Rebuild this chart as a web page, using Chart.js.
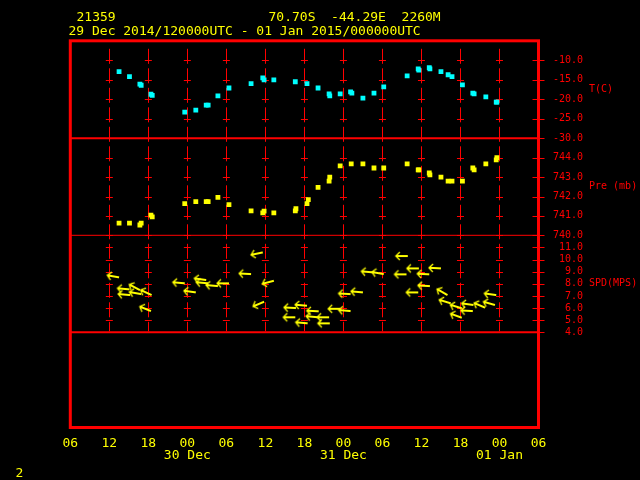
<!DOCTYPE html>
<html>
<head>
<meta charset="utf-8">
<script src="https://cdn.jsdelivr.net/npm/chart.js@4/dist/chart.umd.min.js"></script>
<style>
    html, body { margin: 0; padding: 0; background: #000; }
    canvas { display: block; }
</style>
</head>
<body>
<canvas id="meteograma" width="640" height="480"></canvas>
<script>
// horas contadas a partir de 29 Dec 2014 00 UTC
const tHoras = [13.5, 15.1, 16.7, 16.9, 18.4, 18.6, 23.6, 25.3, 26.9, 27.2, 28.7, 30.4, 33.8, 35.6, 35.8, 37.3,
    40.6, 42.4, 44.1, 45.8, 45.9, 47.5, 49.1, 49.3, 51.0, 52.7, 54.2, 57.8, 59.5, 59.6, 61.2, 61.3,
    63.0, 64.1, 64.7, 66.3, 67.9, 68.1, 69.9, 71.5, 71.6];
const tValores = [-12.9, -14.2, -16.1, -16.4, -18.7, -19.0, -23.3, -22.8, -21.5, -21.5, -19.1, -17.1, -16.0, -14.5, -15.0, -15.0,
    -15.5, -16.0, -17.1, -18.6, -19.1, -18.6, -18.1, -18.4, -19.7, -18.4, -16.8, -14.0, -12.2, -12.5, -11.9, -12.2,
    -12.9, -13.7, -14.2, -16.3, -18.4, -18.6, -19.4, -20.7, -20.7];

const pHoras = [13.5, 15.1, 16.7, 16.9, 18.4, 18.6, 23.6, 25.3, 26.9, 27.2, 28.7, 30.4, 33.8, 35.6, 35.8, 37.3,
    40.6, 40.7, 42.4, 42.6, 44.1, 45.8, 45.9, 47.5, 49.2, 51.0, 52.7, 54.2, 57.8, 59.5, 59.6, 61.2, 61.3,
    63.0, 64.1, 64.7, 66.3, 67.9, 68.1, 69.9, 71.5, 71.6];
const pValores = [740.63, 740.63, 740.53, 740.63, 741.04, 740.95, 741.63, 741.74, 741.74, 741.74, 741.95, 741.58, 741.26, 741.16, 741.25, 741.16,
    741.26, 741.37, 741.63, 741.84, 742.47, 742.79, 743.0, 743.58, 743.68, 743.68, 743.47, 743.47, 743.68, 743.37, 743.37, 743.21, 743.11,
    743.0, 742.79, 742.79, 742.79, 743.47, 743.37, 743.68, 743.89, 744.0];

const vHoras = [13.5, 15.1, 15.2, 16.7, 16.9, 18.5, 18.4, 23.6, 25.3, 26.9, 27.2, 28.7, 30.4, 33.8, 35.6, 35.8, 37.3,
    40.7, 40.6, 42.4, 42.5, 44.2, 44.1, 45.8, 45.9, 47.5, 49.1, 49.1, 51.0, 52.6, 54.2,
    57.9, 57.7, 59.6, 59.5, 61.2, 61.3, 63.0, 64.0, 64.5, 66.2, 66.2, 68.0, 67.9, 69.8, 71.3, 71.5];
const vVelocidade = [8.53, 7.54, 7.07, 7.48, 7.15, 7.07, 5.75, 8.04, 7.29, 8.31, 8.04, 7.81, 8.04, 8.80, 10.59, 6.52, 8.25,
    6.0, 5.24, 6.19, 4.74, 5.73, 5.24, 5.24, 4.74, 5.94, 7.15, 5.75, 7.29, 8.94, 8.80,
    10.29, 8.78, 9.27, 7.29, 8.78, 7.81, 9.27, 7.07, 6.39, 5.98, 5.2, 6.25, 5.75, 6.03, 6.25, 7.07];
// direcao de onde sopra o vento (graus)
const vDirecao = [100, 95, 95, 118, 100, 115, 112, 95, 98, 98, 95, 95, 90, 93, 78, 67, 75,
    93, 90, 95, 95, 93, 95, 90, 90, 90, 93, 95, 95, 95, 100,
    90, 90, 90, 90, 93, 93, 93, 120, 107, 107, 110, 98, 93, 113, 106, 98];

const rotulosHora = ['00', '06', '12', '18'];
const rotulosDia = { 24: '30 Dec', 48: '31 Dec', 72: '01 Jan' };
const nomesPaineis = { yT: 'T(C)', yP: 'Pre (mb)', yS: 'SPD(MPS)' };

const FONTE = "'DejaVu Sans Mono', monospace";
const VERMELHO = '#ff0000';
const AMARELO = '#ffff00';

// seta do vento: cauda no centro da imagem, ponta para a esquerda
function criarSeta() {
    const c = document.createElement('canvas');
    c.width = 30; c.height = 30;
    const g = c.getContext('2d');
    g.strokeStyle = AMARELO;
    g.lineWidth = 2;
    g.beginPath(); g.moveTo(15, 15); g.lineTo(3, 15); g.stroke();
    g.lineWidth = 1.3;
    g.beginPath(); g.moveTo(7, 11); g.lineTo(3, 15); g.lineTo(7, 19); g.stroke();
    return c;
}

function eixoPainel(min, max, passo, peso) {
    return {
        type: 'linear', position: 'right', stack: 'painel', stackWeight: peso,
        min: min, max: max,
        afterFit: s => { s.width = 101.5; },
        afterBuildTicks: s => { s.ticks = s.ticks.filter(t => t.value < max); },
        grid: { display: false, drawTicks: false },
        border: { display: false },
        ticks: {
            stepSize: passo, autoSkip: false, padding: 14.5, color: VERMELHO,
            font: { family: FONTE, size: 10 },
            callback: v => v.toFixed(1).padStart(5, ' ')
        }
    };
}

// grade em cruz, separadores, moldura e textos
const gradeMeteograma = {
    id: 'gradeMeteograma',
    beforeDatasetsDraw(chart) {
        const { ctx, scales } = chart;
        const x = scales.x;
        ctx.save();
        ctx.strokeStyle = VERMELHO;
        ctx.lineWidth = 1;
        ctx.setLineDash([15, 4.5]);
        x.ticks.forEach(t => {
            if (t.value <= x.min || t.value >= x.max) return;
            const px = Math.round(x.getPixelForValue(t.value)) + 0.5;
            ctx.beginPath();
            ctx.moveTo(px, scales.yT.top + 8);
            ctx.lineTo(px, scales.yS.bottom - 1);
            ctx.stroke();
        });
        ctx.setLineDash([]);
        ['yT', 'yP', 'yS'].forEach(id => {
            const s = scales[id];
            s.ticks.forEach(t => {
                const py = Math.round(s.getPixelForValue(t.value)) + 0.5;
                x.ticks.forEach(tx => {
                    if (tx.value <= x.min) return;
                    const px = x.getPixelForValue(tx.value);
                    const m = tx.value >= x.max ? 6 : 3.5;
                    ctx.beginPath();
                    ctx.moveTo(px - m, py);
                    ctx.lineTo(px + m, py);
                    ctx.stroke();
                });
            });
        });
        const { left, right } = chart.chartArea;
        [[scales.yT.bottom, 2], [scales.yP.bottom, 1], [scales.yS.bottom, 2]].forEach(([y, w]) => {
            ctx.lineWidth = w;
            ctx.beginPath();
            ctx.moveTo(left, y);
            ctx.lineTo(right, y);
            ctx.stroke();
        });
        ctx.restore();
    },
    afterDraw(chart) {
        const { ctx, chartArea, scales } = chart;
        ctx.save();
        ctx.strokeStyle = VERMELHO;
        ctx.lineWidth = 3;
        ctx.strokeRect(chartArea.left, chartArea.top, chartArea.right - chartArea.left, chartArea.bottom - chartArea.top);

        ctx.textBaseline = 'middle';
        ctx.textAlign = 'left';
        ctx.fillStyle = AMARELO;
        ctx.font = '13px ' + FONTE;
        ctx.fillText('21359', 76.5, 18);
        ctx.fillText('70.70S  -44.29E  2260M', 268.5, 18);
        ctx.fillText('29 Dec 2014/120000UTC - 01 Jan 2015/000000UTC', 68.5, 32);
        ctx.fillText('2', 15.5, 474);

        ctx.fillStyle = VERMELHO;
        ctx.font = '10px ' + FONTE;
        Object.keys(nomesPaineis).forEach(id => {
            const s = scales[id];
            ctx.fillText(nomesPaineis[id], 589, (s.top + s.bottom) / 2);
        });
        ctx.restore();
    }
};

document.addEventListener("DOMContentLoaded", function() {
    const ctx = document.getElementById('meteograma').getContext('2d');
    const seta = criarSeta();

    new Chart(ctx, {
        type: 'scatter',
        data: {
            datasets: [
                {
                    label: 'T', yAxisID: 'yT',
                    data: tHoras.map((h, i) => ({ x: h, y: tValores[i] })),
                    pointStyle: 'rect', pointRadius: 3.4, borderWidth: 0, backgroundColor: '#00ffff'
                },
                {
                    label: 'Pre', yAxisID: 'yP',
                    data: pHoras.map((h, i) => ({ x: h, y: pValores[i] })),
                    pointStyle: 'rect', pointRadius: 3.4, borderWidth: 0, backgroundColor: AMARELO
                },
                {
                    label: 'SPD', yAxisID: 'yS',
                    data: vHoras.map((h, i) => ({ x: h, y: vVelocidade[i] })),
                    pointStyle: seta, pointRadius: 3, pointRotation: vDirecao.map(d => d - 90)
                }
            ]
        },
        options: {
            responsive: false, animation: false, events: [],
            layout: { padding: { left: 70.3, top: 40.8, right: 0, bottom: 0 } },
            plugins: { legend: { display: false }, tooltip: { enabled: false } },
            scales: {
                x: {
                    type: 'linear', min: 6, max: 78,
                    afterFit: s => { s.height = 52.5; },
                    grid: { display: false, drawTicks: false },
                    border: { display: false },
                    ticks: {
                        stepSize: 6, autoSkip: false, maxRotation: 0, minRotation: 0, padding: 10,
                        color: AMARELO, font: { family: FONTE, size: 13, lineHeight: 0.95 },
                        callback: function(valor) {
                            const hora = rotulosHora[(valor % 24) / 6];
                            return rotulosDia[valor] ? [hora, rotulosDia[valor]] : hora;
                        }
                    }
                },
                yT: eixoPainel(-30, -5, 5, 97.5),
                yP: eixoPainel(740, 745, 1, 97),
                yS: eixoPainel(4, 12, 1, 97),
                yE: {
                    type: 'linear', position: 'right', stack: 'painel', stackWeight: 95.2, min: 0, max: 1,
                    afterFit: s => { s.width = 101.5; },
                    grid: { display: false, drawTicks: false },
                    border: { display: false },
                    ticks: { display: false }
                }
            }
        },
        plugins: [gradeMeteograma]
    });
});
</script>
</body>
</html>
